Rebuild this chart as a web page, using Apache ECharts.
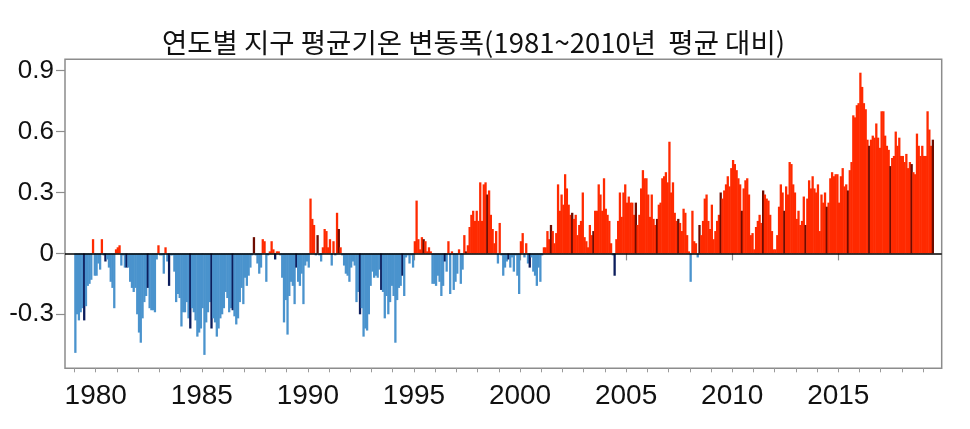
<!DOCTYPE html>
<html>
<head>
<meta charset="utf-8">
<script src="https://cdn.jsdelivr.net/npm/echarts@6/dist/echarts.min.js"></script>
<style>
html,body{margin:0;padding:0;background:#fff;}
#chart{width:970px;height:429px;}
</style>
</head>
<body>
<div id="chart"></div>
<script>
// Monthly global mean temperature anomaly (°C) vs 1981-2010, Jan 1979 .. Jun 2019
var titleText = '연도별 지구 평균기온 변동폭(1981~2010년  평균 대비)';
var startYear = 1979;
var highlightMonth = 6; // June bars drawn darker
var yTicks = [-0.3, 0, 0.3, 0.6, 0.9];
var yearLabels = [1980, 1985, 1990, 1995, 2000, 2005, 2010, 2015];
var yearTicks = [1979,1980,1981,1982,1983,1984,1985,1986,1987,1988,1989,1990,1991,1992,1993,1994,1995,1996,1997,1998,1999,2000,2001,2002,2003,2004,2005,2006,2007,2008,2009,2010,2011,2012,2013,2014,2015,2016,2017,2018,2019];

var anom1979_1984 = [
 -0.49,-0.30,-0.33,-0.29,-0.27,-0.33,-0.26,-0.16,-0.15,-0.13,0.07,-0.11,
 -0.11,-0.05,-0.08,0.07,-0.01,-0.04,-0.03,-0.07,-0.14,-0.17,-0.27,0.02,
 0.03,0.04,-0.06,-0.01,-0.07,-0.07,-0.07,-0.14,-0.17,-0.19,-0.17,-0.30,
 -0.39,-0.44,-0.32,-0.24,-0.21,-0.17,-0.27,-0.28,-0.28,-0.29,-0.03,0.04,
 -0.01,-0.01,-0.10,0.03,-0.04,-0.16,-0.01,-0.01,-0.09,-0.24,-0.20,-0.22,
 -0.36,-0.29,-0.29,-0.24,-0.32,-0.37,-0.27,-0.29,-0.33,-0.41,-0.39,-0.37
];
var anom1985_1990 = [
 -0.27,-0.50,-0.34,-0.29,-0.24,-0.37,-0.32,-0.34,-0.41,-0.37,-0.32,-0.30,
 -0.27,-0.19,-0.22,-0.29,-0.27,-0.28,-0.31,-0.35,-0.32,-0.24,-0.17,-0.25,
 -0.12,-0.16,-0.11,-0.07,-0.01,0.08,-0.01,-0.05,-0.10,-0.07,0.07,0.06,
 -0.14,-0.01,0.01,0.06,0.02,-0.03,0.01,0.01,-0.01,-0.12,-0.34,-0.23,
 -0.40,-0.21,-0.14,-0.16,-0.25,-0.07,-0.14,-0.16,-0.10,-0.25,-0.06,-0.04,
 -0.07,0.27,0.17,0.14,-0.01,0.09,-0.01,-0.04,0.03,0.12,0.11,0.03
];
var anom1991_1996 = [
 0.07,-0.06,0.06,-0.01,0.20,0.12,0.03,-0.01,-0.06,-0.10,-0.11,-0.14,
 -0.07,-0.04,-0.06,-0.24,-0.19,-0.30,-0.27,-0.41,-0.37,-0.38,-0.30,-0.16,
 -0.09,-0.12,-0.11,-0.12,-0.08,-0.18,-0.19,-0.32,-0.21,-0.30,-0.24,-0.16,
 -0.21,-0.44,-0.23,-0.17,-0.16,-0.11,-0.21,-0.02,-0.01,-0.05,-0.01,-0.07,
 0.06,0.26,0.07,0.02,0.08,0.07,0.06,0.01,0.03,0.01,-0.15,-0.15,
 -0.16,-0.11,-0.14,-0.21,-0.16,-0.04,-0.09,0.06,-0.20,0.01,-0.18,-0.14
];
var anom1997_2002 = [
 -0.10,0.02,-0.15,-0.08,0.09,0.01,0.04,0.13,0.19,0.21,0.16,0.21,
 0.16,0.35,0.16,0.34,0.35,0.29,0.31,0.19,0.12,0.05,0.11,-0.05,
 0.15,-0.01,-0.11,-0.07,-0.04,-0.03,-0.07,-0.02,-0.09,-0.01,-0.11,-0.20,
 0.06,0.10,-0.02,0.05,-0.05,-0.07,-0.02,-0.09,-0.11,-0.16,-0.07,-0.14,
 -0.01,0.03,0.03,0.11,0.07,0.14,0.11,0.05,0.10,0.34,0.21,0.29,
 0.24,0.39,0.32,0.24,0.19,0.20,0.17,0.19,0.09,0.14,0.16,0.30
];
var anom2003_2008 = [
 0.08,0.06,0.03,0.14,0.09,0.11,0.21,0.21,0.34,0.29,0.21,0.37,
 0.22,0.19,0.16,0.05,-0.01,-0.11,0.07,0.16,0.30,0.18,0.30,0.34,
 0.25,0.28,0.25,0.25,0.19,0.25,0.14,0.19,0.32,0.41,0.37,0.37,
 0.29,0.18,0.29,0.17,0.14,0.17,0.24,0.25,0.37,0.38,0.40,0.35,
 0.55,0.30,0.35,0.20,0.16,0.17,0.15,0.11,0.22,0.20,0.09,0.01,
 -0.14,0.21,0.06,0.05,-0.02,0.14,0.09,0.16,0.27,0.29,0.16,0.12
];
var anom2009_2014 = [
 0.24,0.07,0.11,0.16,0.19,0.30,0.27,0.31,0.34,0.38,0.33,0.42,
 0.46,0.44,0.41,0.37,0.34,0.21,0.32,0.36,0.37,0.29,0.09,0.10,
 0.02,0.13,0.16,0.19,0.15,0.31,0.29,0.27,0.26,0.19,0.11,0.02,
 0.02,0.09,0.23,0.34,0.30,0.21,0.33,0.29,0.45,0.44,0.34,0.30,
 0.17,0.21,0.14,0.16,0.28,0.14,0.27,0.36,0.32,0.38,0.32,0.30,
 0.34,0.11,0.29,0.25,0.30,0.23,0.25,0.37,0.40,0.38,0.39,0.39
];
var anom2015_2019 = [
 0.25,0.38,0.42,0.33,0.34,0.31,0.41,0.45,0.68,0.67,0.73,0.74,
 0.89,0.82,0.74,0.71,0.56,0.53,0.56,0.58,0.57,0.64,0.57,0.52,
 0.70,0.70,0.58,0.53,0.51,0.43,0.47,0.48,0.60,0.53,0.57,0.48,
 0.48,0.45,0.49,0.42,0.45,0.44,0.40,0.39,0.59,0.53,0.48,0.53,
 0.48,0.48,0.70,0.61,0.53,0.56
];

var anomaly = [].concat(anom1979_1984, anom1985_1990, anom1991_1996, anom1997_2002, anom2003_2008, anom2009_2014, anom2015_2019);

var barData = anomaly.map(function (v, k) {
  return [startYear + (k + 0.5) / 12, v];
});

var POS = '#ff2a00', POS_DARK = '#6e0c00', NEG = '#4a93cd', NEG_DARK = '#0c1d5c';

var chart = echarts.init(document.getElementById('chart'), null, {renderer: 'canvas'});
var gridLeft = 65, gridRight = 28.3, gridTop = 59.3, gridBottom = 60.7;
var xMin = 1978.553, xMax = 2019.874;

chart.setOption({
  animation: false,
  backgroundColor: '#ffffff',
  title: {
    text: titleText,
    left: 157,
    top: 24,
    textStyle: {fontFamily: 'Noto Sans CJK KR', fontSize: 27.5, fontWeight: 'normal', color: '#111'}
  },
  grid: {
    left: gridLeft, right: gridRight, top: gridTop, bottom: gridBottom,
    show: true, borderColor: '#8c8c8c', borderWidth: 1.5, backgroundColor: 'transparent'
  },
  xAxis: [
    {
      type: 'value', min: xMin, max: xMax, position: 'bottom',
      axisLine: {show: false},
      splitLine: {show: false},
      axisTick: {show: true, length: 7, customValues: yearLabels, lineStyle: {color: '#8c8c8c', width: 1.2}},
      axisLabel: {show: true, customValues: yearLabels, margin: 14, fontFamily: 'Liberation Sans', fontSize: 28, color: '#111',
        formatter: function (v) { return String(Math.round(v)); }}
    },
    {
      type: 'value', min: xMin, max: xMax, position: 'bottom',
      axisLine: {show: false},
      splitLine: {show: false},
      axisTick: {show: true, length: 4, customValues: yearTicks, lineStyle: {color: '#9a9a9a', width: 1}},
      axisLabel: {show: false}
    }
  ],
  yAxis: {
    type: 'value', min: -0.566, max: 0.956,
    axisLine: {show: false},
    splitLine: {show: false},
    axisTick: {show: true, length: 9, customValues: yTicks, lineStyle: {color: '#8c8c8c', width: 1.2}},
    axisLabel: {show: true, customValues: yTicks, margin: 11, fontFamily: 'Liberation Sans', fontSize: 26, color: '#111',
      formatter: function (v) { return Math.abs(v) < 1e-9 ? '0' : v.toFixed(1); }}
  },
  series: [{
    type: 'bar',
    xAxisIndex: 0,
    data: barData,
    barWidth: 2.3,
    itemStyle: {
      color: function (p) {
        var v = anomaly[p.dataIndex];
        var dark = (p.dataIndex % 12) === (highlightMonth - 1);
        if (v >= 0) return dark ? POS_DARK : POS;
        return dark ? NEG_DARK : NEG;
      }
    },
    markLine: {
      silent: true, symbol: 'none', animation: false,
      label: {show: false},
      lineStyle: {color: '#000', width: 1.5, type: 'solid'},
      data: [{yAxis: 0}]
    }
  }]
});
</script>
</body>
</html>
